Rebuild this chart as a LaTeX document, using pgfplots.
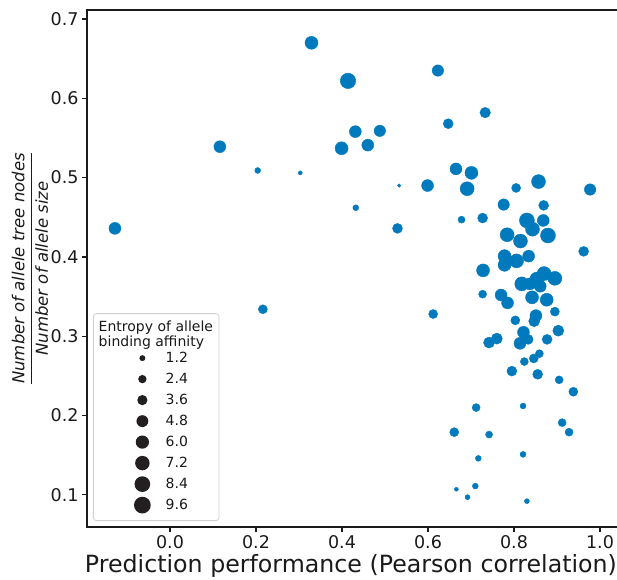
\documentclass[border=0pt]{standalone}
\usepackage{amsmath}
\usepackage{fontspec}
\setmainfont{DejaVu Sans}
\usepackage{pgfplots}
\pgfplotsset{compat=1.18}
\usepackage{pgfplotstable}
\definecolor{ptblue}{RGB}{0,122,189}
\definecolor{spine}{RGB}{26,26,26}
\definecolor{legdot}{RGB}{35,31,32}

\pgfplotstableread{
x y e
0.329 0.670 5.8
0.414 0.622 8.2
0.623 0.635 4.5
0.116 0.539 4.9
0.431 0.558 4.9
0.488 0.559 4.5
0.399 0.537 5.8
0.460 0.541 4.9
0.647 0.568 3.4
0.733 0.582 3.8
0.204 0.509 1.2
0.303 0.506 0.55
0.533 0.490 0.42
0.599 0.490 4.9
0.432 0.462 1.2
0.529 0.436 3.4
-0.128 0.436 4.9
0.216 0.334 2.8
0.612 0.328 2.8
0.977 0.485 4.5
0.665 0.511 4.9
0.701 0.506 5.8
0.691 0.486 6.7
0.805 0.487 2.8
0.857 0.495 6.7
0.776 0.466 4.5
0.869 0.465 3.4
0.678 0.447 1.7
0.727 0.449 3.4
0.830 0.446 7.7
0.868 0.446 4.9
0.843 0.435 6.7
0.784 0.428 6.7
0.879 0.427 7.7
0.815 0.420 6.7
0.962 0.407 3.4
0.778 0.401 5.8
0.806 0.395 6.7
0.834 0.401 4.9
0.778 0.390 5.8
0.728 0.383 5.8
0.870 0.379 6.7
0.895 0.373 6.7
0.853 0.372 6.7
0.818 0.366 6.7
0.861 0.363 4.9
0.837 0.366 4.9
0.727 0.353 2.2
0.770 0.352 4.9
0.785 0.342 4.9
0.842 0.349 5.8
0.876 0.346 5.8
0.895 0.331 2.8
0.803 0.320 2.8
0.851 0.326 4.9
0.847 0.319 4.2
0.903 0.307 4.2
0.822 0.305 4.9
0.760 0.297 4.2
0.742 0.292 4.2
0.814 0.291 4.9
0.833 0.296 3.4
0.877 0.296 3.4
0.824 0.268 2.2
0.846 0.272 2.8
0.859 0.278 2.2
0.795 0.256 3.4
0.855 0.252 3.4
0.905 0.245 2.2
0.938 0.230 2.8
0.712 0.210 2.2
0.821 0.212 1.2
0.912 0.191 2.2
0.928 0.179 2.2
0.661 0.179 2.8
0.742 0.176 1.7
0.717 0.146 1.2
0.821 0.151 1.2
0.666 0.107 0.55
0.710 0.111 1.2
0.692 0.097 0.86
0.830 0.092 0.86
}\datatable

\newcommand{\legimg}[1]{\addlegendimage{legend image code/.code={%
  \path[draw=none,fill=none] (0pt,-10.5pt) rectangle (51pt,10.5pt);
  \fill[legdot,draw=none] (43pt,0pt) circle (#1pt);}}}

\begin{document}
\begin{tikzpicture}
\useasboundingbox (-87pt,-52pt) rectangle (530pt,527pt);
\clip (-87pt,-52pt) rectangle (530pt,527pt);
\begin{axis}[
  scale only axis,
  width=543.1pt, height=517pt,
  xmin=-0.193, xmax=1.070,
  ymin=0.0594, ymax=0.7114,
  xtick={0,0.2,0.4,0.6,0.8,1.0},
  ytick={0.1,0.2,0.3,0.4,0.5,0.6,0.7},
  xtick pos=lower, ytick pos=left,
  tick align=outside,
  major tick length=5pt,
  every tick/.style={spine, line width=1.3pt},
  axis line style={spine, line width=1.7pt},
  /pgf/number format/assume math mode=true,
  tick label style={font=\fontsize{17.5}{20}\selectfont, color=spine},
  xticklabel style={/pgf/number format/.cd, fixed, fixed zerofill, precision=1},
  yticklabel style={/pgf/number format/.cd, fixed, fixed zerofill, precision=1},
  xlabel={Prediction performance (Pearson correlation)},
  xlabel style={font=\fontsize{23.7}{27}\selectfont, color=spine, at={(axis description cs:0.486,-0.0754)}, anchor=center},
  ylabel={$\dfrac{\textit{Number of allele tree nodes}}{\textit{Number of allele size}}$},
  ylabel style={font=\fontsize{16.5}{19}\selectfont, color=spine, at={(axis description cs:-0.105,0.5)}, anchor=center, rotate=0},
  legend style={at={(axis description cs:0.011,0.0116)}, anchor=south west,
    draw=black!18, line width=0.8pt, rounded corners=3pt, fill=white,
    inner xsep=6pt, inner ysep=5pt,
    font=\fontsize{14}{16}\selectfont, text=spine,
    nodes={inner sep=0pt},
    /tikz/every odd column/.append style={column sep=15pt},
    row sep=0pt},
  legend cell align=left,
]
\addplot[only marks, mark=*, scatter,
  scatter/use mapped color={draw=ptblue, fill=ptblue},
  visualization depends on={2.7*sqrt(\thisrow{e}) \as \perpointmarksize},
  scatter/@pre marker code/.append style={/tikz/mark size=\perpointmarksize},
  forget plot] table[x=x, y=y] {\datatable};
\addlegendimage{empty legend}
\addlegendentry{\hspace*{-67pt}\raisebox{-3pt}{\rule{0pt}{16pt}}Entropy of allele}
\addlegendimage{empty legend}
\addlegendentry{\hspace*{-67pt}\raisebox{-5pt}{\rule{0pt}{18pt}}binding affinity}
\legimg{2.96}\addlegendentry{1.2}
\legimg{4.18}\addlegendentry{2.4}
\legimg{5.12}\addlegendentry{3.6}
\legimg{5.92}\addlegendentry{4.8}
\legimg{6.61}\addlegendentry{6.0}
\legimg{7.24}\addlegendentry{7.2}
\legimg{7.83}\addlegendentry{8.4}
\legimg{8.37}\addlegendentry{9.6}
\end{axis}
\end{tikzpicture}
\end{document}
